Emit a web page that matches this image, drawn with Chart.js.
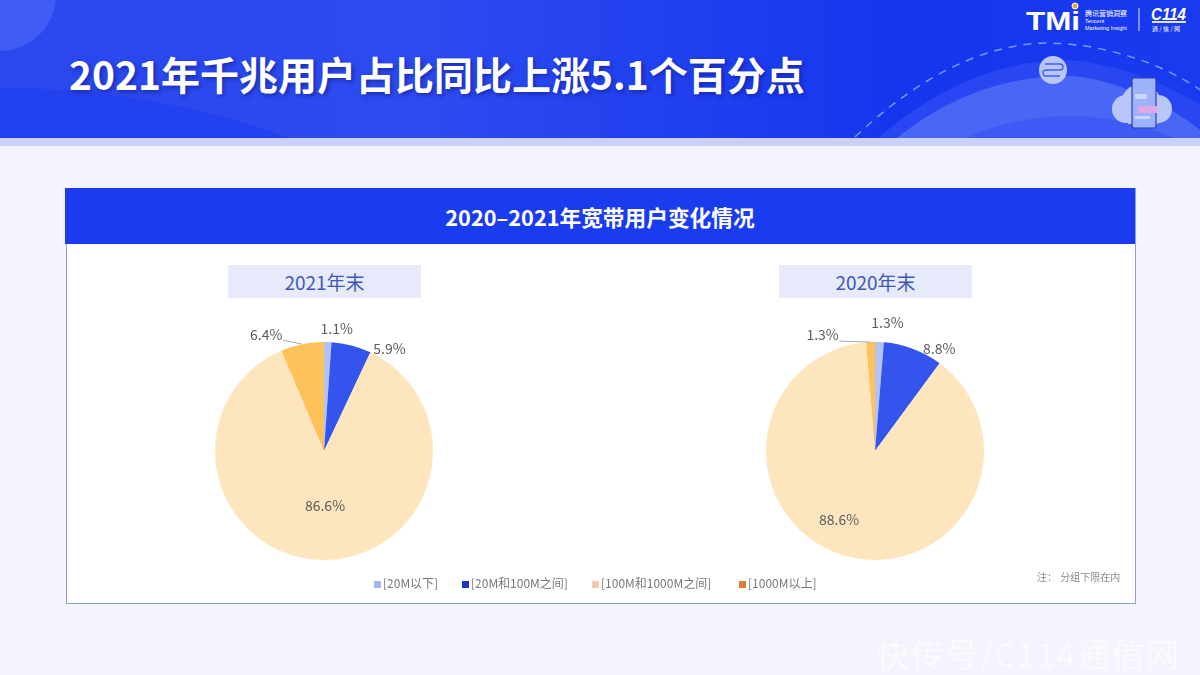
<!DOCTYPE html>
<html>
<head>
<meta charset="utf-8">
<title>2021年千兆用户占比同比上涨5.1个百分点</title>
<script src="https://cdn.jsdelivr.net/npm/chart.js@4/dist/chart.umd.min.js"></script>
<style>
  html, body { margin: 0; padding: 0; }
  body { width: 1200px; height: 675px; overflow: hidden; position: relative; background: #f3f4fe;
         font-family: "Noto Sans CJK SC", "Noto Sans", sans-serif; }
  .abs { position: absolute; white-space: nowrap; }
  #deco { left: 0; top: 0; }
  #title { left: 69px; top: 46px; font-size: 39px; line-height: 54px; font-weight: 700; color: #fff;
           text-shadow: 2px 2px 4px rgba(10,20,120,0.55); }
  #panel { left: 66px; top: 188px; width: 1068px; height: 414px; background: #fff; border: 1px solid #8e9fd8; box-sizing: content-box; }
  #panelHead { left: 65px; top: 188px; width: 1070px; height: 56px; background: #1a3bee; color: #fff;
               font-size: 21.7px; font-weight: 700; line-height: 57px; text-align: center; }
  .sub { top: 265px; width: 193px; height: 33px; background: #e6eafa; color: #3f58b8; font-size: 19px;
         line-height: 34px; text-align: center; }
  canvas { position: absolute; }
  .leg { top: 575px; font-size: 12px; line-height: 16px; color: #77787e; }
  .leg i { display: inline-block; width: 7px; height: 7px; margin-right: 2px; vertical-align: 0px; }
  #note { left: 1037px; top: 569px; font-size: 10px; line-height: 15px; color: #8b8b8b; word-spacing: 1px; }
  #mark { left: 876px; top: 630px; font-size: 33px; line-height: 46px; color: rgba(255,255,255,0.72); letter-spacing: 1.6px; }
</style>
</head>
<body>

<svg id="deco" class="abs" width="1200" height="146">
  <defs>
    <linearGradient id="headGrad" x1="0" y1="0" x2="1" y2="0">
      <stop offset="0" stop-color="#2b47ee"/>
      <stop offset="0.35" stop-color="#2d4bf0"/>
      <stop offset="0.75" stop-color="#1636ee"/>
      <stop offset="1" stop-color="#1a3aee"/>
    </linearGradient>
    <clipPath id="headClip"><rect width="1200" height="138"/></clipPath>
  </defs>
  <rect width="1200" height="138" fill="url(#headGrad)"/>
  <rect y="138" width="1200" height="8" fill="#c9d0fa"/>
  <g clip-path="url(#headClip)">
    <circle cx="0" cy="-5" r="56" fill="#3e5cf3"/>
    <path d="M0 88 C 100 88, 200 105, 290 138 L0 138 Z" fill="#2342ef"/>
    <path d="M878 138 C 940 85, 1000 62, 1060 60 C 1110 60, 1170 85, 1200 105 L1200 138 Z" fill="#2847f2"/>
    <path d="M897 138 C 950 95, 1010 76, 1065 76 C 1110 76, 1170 105, 1200 130 L1200 138 Z" fill="#4a66f5"/>
    <path d="M965 138 C 1000 122, 1040 116, 1070 116 C 1110 116, 1150 128, 1175 138 Z" fill="#3d5bf4"/>
    <path d="M855 137 C 910 85, 975 45, 1045 43 C 1105 43, 1165 65, 1200 90" fill="none" stroke="#7f95f8" stroke-width="1.5" stroke-dasharray="8 7"/>
  </g>
  <!-- exchange icon -->
  <circle cx="1053" cy="70" r="14" fill="#b9c6fa"/>
  <path d="M1045 64 h15 a3 3 0 0 1 0 6 h-14 a3 3 0 0 0 0 6 h14" fill="none" stroke="#3f5ff3" stroke-width="1.4"/>
  <!-- cloud and phone -->
  <circle cx="1126" cy="109" r="14" fill="#b9c6fa"/>
  <circle cx="1141" cy="104" r="20" fill="#b9c6fa"/>
  <circle cx="1158" cy="109" r="14" fill="#b9c6fa"/>
  <rect x="1128" y="106" width="30" height="18" fill="#b9c6fa"/>
  <rect x="1132" y="78" width="24" height="50" rx="2" fill="#9db2f8" stroke="#2a3fb0" stroke-width="1.2"/>
  <rect x="1135" y="94" width="12" height="5" fill="#c9d6fb"/>
  <rect x="1138" y="106" width="19" height="7" fill="#dfa8e0"/>
  <rect x="1135" y="116" width="15" height="3" fill="#c9d6fb"/>
  <!-- logos -->
  <text x="1026" y="30" font-family="Liberation Sans, sans-serif" font-size="26" font-weight="700" fill="#fff" textLength="54" lengthAdjust="spacingAndGlyphs">TMi</text>
  <circle cx="1075" cy="6" r="3" fill="#f0a13a" stroke="#fff" stroke-width="1"/>
  <text x="1085" y="16" font-size="7" fill="#fff" font-family="Noto Sans CJK SC">腾讯营销洞察</text>
  <text x="1085" y="23" font-size="5.5" fill="#fff" font-family="Liberation Sans">Tencent</text>
  <text x="1085" y="30" font-size="5.5" fill="#fff" font-family="Liberation Sans">Marketing Insight</text>
  <line x1="1139" y1="8" x2="1139" y2="31" stroke="#dfe5ff" stroke-width="1"/>
  <text x="1151" y="20" font-family="Liberation Sans, sans-serif" font-size="16" font-weight="700" font-style="italic" fill="#fff" textLength="35" lengthAdjust="spacingAndGlyphs">C114</text>
  <rect x="1152" y="21" width="34" height="2" fill="#dfe5ff"/>
  <text x="1152" y="31" font-size="6" fill="#fff" font-family="Noto Sans CJK SC">通 / 信 / 网</text>
</svg>

<div id="title" class="abs">2021年千兆用户占比同比上涨5.1个百分点</div>

<div id="panel" class="abs"></div>
<div id="panelHead" class="abs">2020–2021年宽带用户变化情况</div>
<div class="abs sub" style="left:228px">2021年末</div>
<div class="abs sub" style="left:779px">2020年末</div>

<canvas id="pie2021" width="300" height="300" style="left:174px;top:301px"></canvas>
<canvas id="pie2020" width="300" height="300" style="left:725px;top:301px"></canvas>

<div id="legendBox"></div>
<div id="note" class="abs">注： 分组下限在内</div>
<div id="mark" class="abs">快传号/C114通信网</div>

<script>
var categories = ["[20M以下]", "[20M和100M之间]", "[100M和1000M之间]", "[1000M以上]"];
var values2021 = [1.1, 5.9, 86.6, 6.4];
var values2020 = [1.3, 8.8, 88.6, 1.3];

var sliceColors = ["#b3c2ee", "#3355ee", "#fde6bd", "#fdc25a"];
var legendColors = ["#a6b4f0", "#1a35c8", "#f2c9ad", "#e07b39"];
var legendLeft = [374, 462, 592, 739];

// label nudges from each slice's anchor point, the big slice is anchored half way in
var offsets2021 = [[9, -13], [38, 3], [2, 0], [-36, -10]];
var offsets2020 = [[8, -19], [26, 0], [-21, 16], [-48, -7]];
// leader lines: index of slice -> start of the line relative to the anchor
var leaders2021 = { 3: [-19, -4] };
var leaders2020 = { 3: [-31, -1] };

function pctLabels(offsets, leaders) {
  return {
    id: "pctLabels",
    afterDatasetsDraw: function(chart) {
      var ctx = chart.ctx;
      var arcs = chart.getDatasetMeta(0).data;
      var values = chart.data.datasets[0].data;
      ctx.save();
      ctx.font = "14px 'Noto Sans CJK SC'";
      ctx.fillStyle = "#5c5c5c";
      ctx.textAlign = "center";
      ctx.textBaseline = "middle";
      for (var i = 0; i < arcs.length; i++) {
        var a = arcs[i];
        var mid = (a.startAngle + a.endAngle) / 2;
        var r = values[i] > 50 ? a.outerRadius / 2 : a.outerRadius;
        var ax = a.x + Math.cos(mid) * r;
        var ay = a.y + Math.sin(mid) * r;
        if (leaders[i]) {
          ctx.strokeStyle = "#a9a9a9";
          ctx.lineWidth = 1;
          ctx.beginPath();
          ctx.moveTo(ax + leaders[i][0], ay + leaders[i][1]);
          ctx.lineTo(ax, ay);
          ctx.stroke();
        }
        ctx.fillText(values[i].toFixed(1) + "%", ax + offsets[i][0], ay + offsets[i][1]);
      }
      ctx.restore();
    }
  };
}

function makePie(id, values, offsets, leaders) {
  return new Chart(document.getElementById(id), {
    type: "pie",
    data: {
      labels: categories,
      datasets: [{ data: values, backgroundColor: sliceColors, borderWidth: 0 }]
    },
    options: {
      responsive: false,
      animation: false,
      layout: { padding: 41 },
      plugins: { legend: { display: false }, tooltip: { enabled: false } }
    },
    plugins: [pctLabels(offsets, leaders)]
  });
}

makePie("pie2021", values2021, offsets2021, leaders2021);
makePie("pie2020", values2020, offsets2020, leaders2020);

var box = document.getElementById("legendBox");
for (var i = 0; i < categories.length; i++) {
  var d = document.createElement("div");
  d.className = "abs leg";
  d.style.left = legendLeft[i] + "px";
  d.innerHTML = '<i style="background:' + legendColors[i] + '"></i>' + categories[i];
  box.appendChild(d);
}
</script>
</body>
</html>
